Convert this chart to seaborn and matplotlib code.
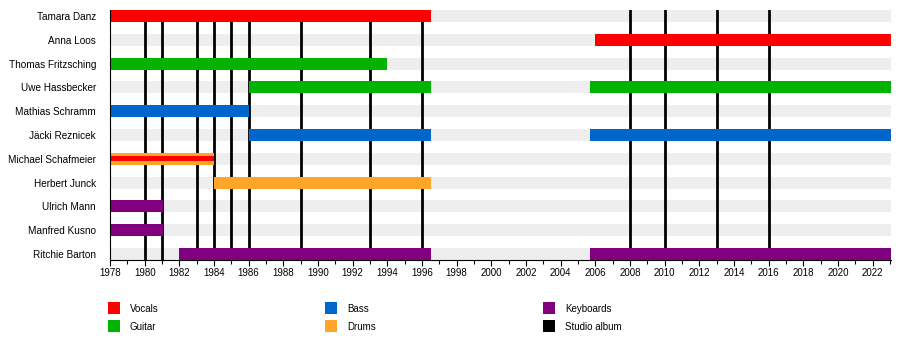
import matplotlib
matplotlib.use("Agg")
import matplotlib.pyplot as plt
from matplotlib.patches import Rectangle
from matplotlib.ticker import MultipleLocator
import seaborn as sns
import pandas as pd

members = ["Tamara Danz", "Anna Loos", "Thomas Fritzsching", "Uwe Hassbecker",
           "Mathias Schramm", "Jäcki Reznicek", "Michael Schafmeier",
           "Herbert Junck", "Ulrich Mann", "Manfred Kusno", "Ritchie Barton"]

# one row per stint
stint_member = ["Tamara Danz", "Anna Loos", "Thomas Fritzsching",
                "Uwe Hassbecker", "Uwe Hassbecker", "Mathias Schramm",
                "Jäcki Reznicek", "Jäcki Reznicek", "Michael Schafmeier",
                "Herbert Junck", "Ulrich Mann", "Manfred Kusno",
                "Ritchie Barton", "Ritchie Barton"]
stint_start = [1978, 2006.0, 1978, 1986, 2005.7, 1978, 1986, 2005.7, 1978,
               1984, 1978, 1978, 1982, 2005.7]
stint_end = [1996.55, 2023.05, 1994.0, 1996.55, 2023.05, 1986, 1996.55, 2023.05,
             1984, 1996.55, 1981.05, 1981.05, 1996.55, 2023.05]
stint_role = ["Vocals", "Vocals", "Guitar", "Guitar", "Guitar", "Bass", "Bass",
              "Bass", "Drums", "Drums", "Keyboards", "Keyboards", "Keyboards",
              "Keyboards"]

# secondary role (thin stripe)
second_member = ["Michael Schafmeier"]
second_start = [1978]
second_end = [1984]
second_role = ["Vocals"]

albums = [1980, 1981, 1983, 1984, 1985, 1986, 1989, 1993, 1996,
          2008, 2010, 2013, 2016]

start_year = 1978
end_year = 2023.05

roles = ["Vocals", "Guitar", "Bass", "Drums", "Keyboards", "Studio album"]
colors = {"Vocals": "#ff0000", "Guitar": "#00b300", "Bass": "#0066cc",
          "Drums": "#ffa52a", "Keyboards": "#800080", "Studio album": "#000000"}

stints = pd.DataFrame({"member": stint_member, "start": stint_start,
                       "end": stint_end, "role": stint_role})
seconds = pd.DataFrame({"member": second_member, "start": second_start,
                        "end": second_end, "role": second_role})

sns.set_style("white")
plt.rcParams["font.family"] = ["Liberation Sans", "DejaVu Sans"]
plt.rcParams["text.color"] = "black"
plt.rcParams["xtick.color"] = "black"
plt.rcParams["ytick.color"] = "black"

fig = plt.figure(figsize=(9, 3.6), dpi=100)
ax = fig.add_axes([110 / 900, 100 / 360, 780.7 / 900, 250 / 360])

ypos = {m: i for i, m in enumerate(members)}
bar_h = 0.5

# grey lanes
ax.barh([ypos[m] for m in members], end_year - start_year, left=start_year,
        height=bar_h, color="#eeeeee", linewidth=0, zorder=1)

# album lines
for a in albums:
    ax.axvline(a, color="black", lw=2.0, zorder=2)

ax.barh(stints["member"].map(ypos), stints["end"] - stints["start"],
        left=stints["start"], height=bar_h,
        color=stints["role"].map(colors), linewidth=0, zorder=3)
ax.barh(seconds["member"].map(ypos), seconds["end"] - seconds["start"],
        left=seconds["start"], height=0.21,
        color=seconds["role"].map(colors), linewidth=0, zorder=4)

ax.set_xlim(start_year, end_year)
ax.set_ylim(len(members) - 1 + 0.25, -0.25)
ax.set_yticks(range(len(members)))
ax.set_yticklabels(members)
ax.xaxis.set_major_locator(MultipleLocator(2))
ax.xaxis.set_minor_locator(MultipleLocator(1))
ax.tick_params(axis="x", which="major", direction="out", length=4, width=0.8,
               labelsize=7, pad=2, bottom=True, color="black")
ax.tick_params(axis="x", which="minor", direction="out", length=3, width=0.8,
               bottom=True, color="black")
ax.tick_params(axis="y", length=0, labelsize=7.2, pad=10)
sns.despine(ax=ax, top=True, right=True)
for side in ["left", "bottom"]:
    ax.spines[side].set_color("black")
    ax.spines[side].set_linewidth(0.8)
ax.spines["left"].set_zorder(5)

# legend
col_x = [108, 325, 543]
row_y = [302, 320]
for i, role in enumerate(roles):
    cx = col_x[i // 2]
    ry = row_y[i % 2]
    fig.add_artist(Rectangle((cx / 900, 1 - (ry + 12) / 360), 12 / 900, 12 / 360,
                             transform=fig.transFigure, color=colors[role],
                             linewidth=0))
    fig.text((cx + 22) / 900, 1 - (ry + 7) / 360, role, fontsize=7,
             va="center", ha="left")

fig.savefig("out.png", dpi=100)
